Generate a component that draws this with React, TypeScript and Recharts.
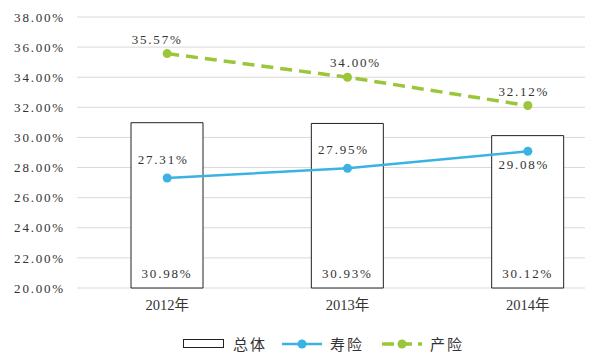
import React from 'react';
import { ComposedChart, Bar, Line, XAxis, YAxis, CartesianGrid, Legend, LabelList } from 'recharts';

const categories = ['2012年', '2013年', '2014年'];
const totalValues = [30.98, 30.93, 30.12];
const lifeValues = [27.31, 27.95, 29.08];
const propertyValues = [35.57, 34.0, 32.12];
const yTicks = [20, 22, 24, 26, 28, 30, 32, 34, 36, 38];
const seriesNames = ['总体', '寿险', '产险'];

const data = categories.map((c, i) => ({
  name: c,
  total: totalValues[i],
  life: lifeValues[i],
  property: propertyValues[i],
}));

const BLUE = '#3AB3E3';
const GREEN = '#9AC63A';
const TEXT = '#333333';
const FONT = "'Liberation Serif', 'Noto Sans CJK SC', serif";

const fmt = (v: number) => v.toFixed(2) + '%';

const gridLine = (props: any) => (
  <line
    key={props.key ?? `${props.y1}`}
    x1={props.x1}
    y1={props.y1}
    x2={577}
    y2={props.y2}
    stroke="#d9d9d9"
    strokeWidth={1}
  />
);

const barLabel = (props: any) => {
  const { x, y, width, height, value } = props;
  return (
    <text x={x + width / 2} y={y + height - 10} textAnchor="middle" fill={TEXT} fontSize={13} fontFamily={FONT} letterSpacing={1.8}>
      {fmt(value)}
    </text>
  );
};

const lifeLabel = (props: any) => {
  const { x, y, value, index } = props;
  const below = index === 2;
  return (
    <text x={x - 4} y={below ? y + 18 : y - 14} textAnchor="middle" fill={TEXT} fontSize={13} fontFamily={FONT} letterSpacing={1.8}>
      {fmt(value)}
    </text>
  );
};

const propLabel = (props: any) => {
  const { x, y, value, index } = props;
  const dx = index === 0 ? -10 : index === 1 ? 8 : -4;
  return (
    <text x={x + dx} y={y - 10} textAnchor="middle" fill={TEXT} fontSize={13} fontFamily={FONT} letterSpacing={1.8}>
      {fmt(value)}
    </text>
  );
};

const LegendContent = () => {
  const textStyle: React.CSSProperties = {
    position: 'absolute',
    top: 0,
    fontSize: 15,
    color: TEXT,
    fontFamily: "'Noto Sans CJK SC', sans-serif",
    lineHeight: '20px',
    letterSpacing: 2,
  };
  return (
    <div style={{ position: 'relative', width: 584, height: 20 }}>
      <svg style={{ position: 'absolute', left: 0, top: 0 }} width={584} height={20}>
        <rect x={175.5} y={5.5} width={40} height={8} fill="#fff" stroke="#222" strokeWidth={1} />
        <line x1={274} y1={10} x2={314} y2={10} stroke={BLUE} strokeWidth={2.5} />
        <circle cx={294} cy={10} r={4.5} fill={BLUE} />
        <line x1={374} y1={10} x2={414} y2={10} stroke={GREEN} strokeWidth={3.5} strokeDasharray="12 6" />
        <circle cx={394} cy={10} r={4.5} fill={GREEN} />
      </svg>
      <span style={{ ...textStyle, left: 225 }}>{seriesNames[0]}</span>
      <span style={{ ...textStyle, left: 322 }}>{seriesNames[1]}</span>
      <span style={{ ...textStyle, left: 422 }}>{seriesNames[2]}</span>
    </div>
  );
};

export default function App() {
  return (
    <div style={{ width: 584, height: 352, overflow: 'hidden' }}>
      <ComposedChart
        width={620}
        height={352}
        data={data}
        margin={{ top: 9, right: 10, bottom: 6, left: 0 }}
        style={{ fontFamily: FONT }}
      >
        <CartesianGrid vertical={false} horizontal={gridLine} />
        <XAxis
          dataKey="name"
          axisLine={false}
          tickLine={false}
          height={46}
          tickMargin={6}
          tick={{ fill: TEXT, fontSize: 14.5, fontFamily: FONT }}
        />
        <YAxis
          domain={[20, 38]}
          ticks={yTicks}
          interval={0}
          width={69}
          axisLine={false}
          tickLine={false}
          tickMargin={6}
          tickFormatter={(v: number) => fmt(v)}
          tick={{ fill: TEXT, fontSize: 13, fontFamily: FONT, letterSpacing: 1.8 }}
        />
        <Legend verticalAlign="bottom" height={20} content={<LegendContent />} />
        <Bar dataKey="total" name={seriesNames[0]} barSize={72} fill="#ffffff" stroke="#222222" strokeWidth={1} isAnimationActive={false}>
          <LabelList dataKey="total" content={barLabel} />
        </Bar>
        <Line
          dataKey="life"
          name={seriesNames[1]}
          stroke={BLUE}
          strokeWidth={2.5}
          dot={{ r: 4.5, fill: BLUE, stroke: BLUE, strokeWidth: 0 }}
          isAnimationActive={false}
        >
          <LabelList dataKey="life" content={lifeLabel} />
        </Line>
        <Line
          dataKey="property"
          name={seriesNames[2]}
          stroke={GREEN}
          strokeWidth={3.5}
          strokeDasharray="12 7"
          dot={{ r: 4.5, fill: GREEN, stroke: GREEN, strokeWidth: 0 }}
          isAnimationActive={false}
        >
          <LabelList dataKey="property" content={propLabel} />
        </Line>
      </ComposedChart>
    </div>
  );
}
